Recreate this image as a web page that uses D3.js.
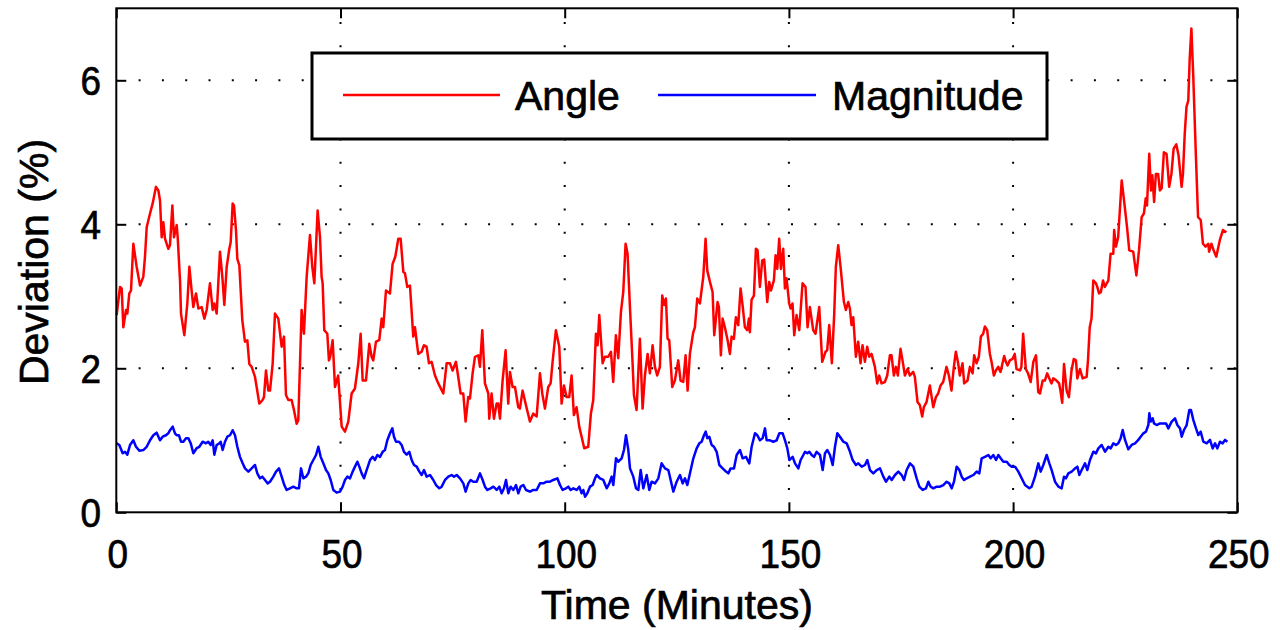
<!DOCTYPE html>
<html><head><meta charset="utf-8">
<script src="https://cdn.jsdelivr.net/npm/d3@7"></script>
<style>
body{margin:0;background:#fff}
svg{display:block}
text{font-family:"Liberation Sans",Arial,Helvetica,sans-serif;fill:#000;stroke:#000;stroke-width:0.7px}
</style>
</head><body>
<svg id="c" width="1280" height="630"></svg>
<script>
const seriesNames = ["Angle", "Magnitude"];
const xTicks = [0, 50, 100, 150, 200, 250];
const yTicks = [0, 2, 4, 6];
const xLabel = "Time (Minutes)";
const yLabel = "Deviation (%)";

const angleTime = [0.08,0.83,1.2,1.57,2.16,2.46,2.9,3.28,3.8,4.54,5.29,6.02,6.4,6.78,7.52,8.11,8.85,9.38,9.75,10.12,10.49,10.86,11.61,11.97,12.5,12.86,13.47,13.69,14.21,14.43,15.17,15.84,16.29,16.8,17.18,17.77,18.3,19.04,19.64,20.15,20.89,21.49,21.86,22.38,23.12,23.65,24.09,24.62,25.21,25.51,25.95,26.25,26.69,26.99,27.44,28.1,28.69,29.22,29.66,30.19,30.93,31.3,31.89,32.63,32.93,33.38,33.9,34.28,34.87,35.39,36.13,36.87,37.4,37.84,38.36,39.1,39.62,40.22,40.59,41.33,41.85,42.45,43.19,43.71,44.16,44.9,45.43,45.79,46.02,46.38,47.06,47.42,47.7,48.25,48.77,49.48,50.26,51.0,51.74,52.48,53.22,53.97,54.49,54.94,55.68,56.42,56.94,57.31,57.91,58.65,59.18,59.54,60.14,61.03,61.62,62.22,62.89,63.41,64.01,64.37,64.9,65.49,66.23,66.6,67.34,68.09,68.61,69.2,69.73,70.32,71.07,71.81,72.93,73.67,74.41,75.01,75.75,76.26,76.79,77.38,77.9,78.49,78.87,79.46,79.99,80.73,81.1,81.62,82.21,82.96,83.18,83.7,84.22,84.82,85.18,85.56,86.15,86.82,87.41,87.79,88.38,88.91,89.65,90.01,90.61,91.35,92.24,92.98,93.74,94.48,95.0,95.59,96.33,96.86,97.3,98.04,98.79,99.31,99.83,100.42,101.01,101.54,102.05,102.65,103.24,103.77,104.36,105.25,105.84,106.37,106.96,107.34,107.71,108.45,108.97,109.72,110.31,110.82,111.42,111.94,112.54,113.06,113.58,114.02,114.55,115.14,115.44,116.03,116.77,117.37,117.89,118.49,119.0,119.6,120.12,120.63,121.23,121.75,122.2,122.58,122.94,123.32,123.98,124.57,125.32,125.84,126.44,126.96,127.41,127.92,128.67,129.04,129.56,130.15,130.9,131.42,131.79,132.39,132.98,133.35,134.09,134.39,134.83,135.21,135.72,136.33,136.84,137.22,137.73,138.18,138.71,139.22,139.66,140.19,140.71,141.08,141.3,141.67,142.2,142.64,143.01,143.53,144.05,144.49,145.17,145.61,145.99,146.65,147.03,147.4,147.84,148.22,148.73,149.11,149.47,150.07,150.37,150.81,151.19,151.71,152.31,153.04,153.71,154.16,154.68,155.42,155.94,156.76,157.43,158.17,158.54,158.99,159.58,160.11,160.47,161.0,161.52,162.27,162.71,163.23,163.6,163.97,164.35,164.94,165.45,165.98,166.42,166.95,167.46,167.91,168.43,169.18,169.69,170.14,170.66,171.4,171.93,172.52,172.89,173.41,173.86,174.3,174.9,175.34,175.87,176.46,176.98,177.72,178.09,178.69,179.2,179.73,180.09,180.69,181.44,182.19,182.78,183.29,183.82,184.41,185.15,185.68,186.26,186.79,187.23,187.75,188.12,188.72,189.09,189.84,190.36,190.96,191.32,191.85,192.36,192.81,193.33,193.7,194.22,194.82,195.19,195.71,196.15,196.68,197.19,197.64,198.01,198.38,198.76,199.27,199.87,200.36,200.76,201.55,201.85,202.24,202.84,203.33,203.92,204.52,205.11,205.61,206.0,206.6,207.09,207.59,208.08,208.58,208.97,209.67,210.26,210.56,210.95,211.35,211.94,212.44,213.03,213.53,214.02,214.32,214.91,215.51,216.4,216.7,217.09,217.49,217.88,218.48,218.77,219.17,219.57,220.06,220.46,221.25,221.74,222.34,222.54,222.93,223.43,224.22,224.91,225.41,225.9,226.79,227.49,228.08,228.67,229.17,229.57,229.86,230.36,230.75,231.05,231.45,231.84,232.34,232.73,233.13,233.62,234.22,234.81,235.31,235.8,236.4,236.89,237.58,237.88,238.28,238.67,239.07,239.37,239.76,240.16,240.75,241.25,241.84,242.34,242.93,243.52,243.72,244.22,244.71,245.31,246.1,246.79,247.58];
const angleDev = [2.74,3.13,3.11,2.57,2.81,2.76,3.04,3.08,3.73,3.41,3.15,3.27,3.55,3.96,4.15,4.29,4.52,4.47,4.33,3.82,4.03,3.8,3.66,3.71,4.26,3.82,3.99,3.82,3.22,2.76,2.46,2.9,3.41,3.08,2.85,3.04,2.83,2.85,2.69,2.81,3.18,2.81,2.9,2.76,3.62,3.27,2.88,3.41,3.66,3.75,4.29,4.26,3.92,3.52,3.43,2.67,2.37,2.39,2.06,2.02,1.88,1.74,1.51,1.56,1.6,1.97,1.69,1.69,2.06,2.76,2.69,2.3,2.44,1.63,1.56,1.56,1.42,1.23,1.28,2.81,2.48,3.27,3.85,3.41,3.18,4.19,3.82,3.27,3.18,2.53,2.48,2.11,2.16,2.39,1.74,1.9,1.19,1.12,1.26,1.65,1.72,2.07,2.48,1.83,1.83,2.34,2.16,2.11,2.37,2.39,2.69,2.57,3.08,3.04,3.45,3.55,3.8,3.8,3.34,3.32,3.13,3.15,2.44,2.57,2.2,2.23,2.32,2.3,2.07,2.09,1.9,1.79,1.65,2.07,2.07,1.97,2.09,1.88,1.65,1.65,1.26,1.6,1.58,1.93,2.16,2.18,2.02,2.53,1.79,1.65,1.3,1.65,1.3,1.51,1.51,1.3,1.83,2.25,1.51,1.95,1.74,1.74,1.46,1.44,1.69,1.49,1.26,1.37,1.33,1.93,1.65,1.44,1.74,1.79,2.09,2.53,2.3,1.51,1.76,1.6,1.6,1.9,1.35,1.46,1.19,1.05,0.89,0.91,1.37,1.56,2.48,2.32,2.74,2.07,2.16,2.16,2.23,1.81,2.46,2.14,2.78,3.06,3.73,3.59,2.85,2.07,1.63,1.42,2.41,1.44,1.9,2.2,1.93,2.32,2.02,1.9,2.02,3.01,2.88,2.97,2.41,2.39,1.74,1.83,2.11,1.83,1.81,2.18,1.69,2.2,2.5,2.57,2.97,2.9,3.27,3.8,3.36,3.2,3.06,2.46,2.92,2.85,2.18,2.69,2.57,2.39,2.2,2.44,2.41,2.71,2.6,3.11,2.88,2.57,2.53,2.69,2.5,2.95,3.01,3.66,3.64,3.13,3.5,3.51,2.92,3.2,3.08,3.22,3.57,3.38,3.8,3.38,3.66,3.11,3.25,2.9,2.83,2.9,2.46,2.74,2.53,3.18,3.13,2.57,2.85,2.53,2.48,2.85,2.09,2.23,2.25,2.6,2.07,2.76,3.41,3.71,3.41,2.92,2.81,2.92,2.83,2.6,2.71,2.16,2.37,2.07,2.32,2.09,2.3,2.16,2.2,2.02,1.79,1.9,1.79,1.81,1.9,2.18,2.18,1.9,2.02,1.9,2.27,2.11,1.9,1.99,1.9,1.95,1.88,1.53,1.49,1.33,1.46,1.53,1.76,1.46,1.6,1.65,1.76,1.81,2.02,1.9,1.69,2.02,2.23,2.07,1.9,2.07,1.79,1.83,2.02,1.93,2.18,2.07,2.16,2.44,2.48,2.58,2.53,2.2,2.09,1.9,1.97,2.02,1.95,2.07,2.17,2.09,2.04,2.11,2.13,2.2,1.99,1.97,2.02,2.48,1.99,1.93,1.81,2.09,2.18,1.67,1.65,1.83,1.83,1.93,1.86,1.79,1.86,1.83,1.79,1.69,1.52,2.06,1.69,1.6,1.97,2.13,2.11,1.86,1.99,1.86,1.88,2.11,2.57,2.69,3.22,3.18,3.13,3.04,3.06,3.22,3.13,3.22,3.59,3.59,3.92,3.69,3.82,4.61,4.24,3.96,3.64,3.62,3.29,3.64,4.1,4.15,4.36,4.26,4.98,4.47,4.68,4.31,4.7,4.7,4.47,4.5,5.0,4.98,4.52,4.7,5.05,5.11,4.96,4.52,4.7,5.26,5.63,5.72,6.28,6.72,6.09,4.98,4.1,4.06,3.73,3.69,3.73,3.62,3.73,3.64,3.55,3.78,3.92,3.89];

const magTime = [0.08,0.68,1.42,1.94,2.46,3.06,3.8,4.39,5.14,6.03,6.77,7.52,8.26,9.0,9.75,10.34,11.08,11.6,11.98,12.57,13.09,13.46,13.98,14.43,14.95,15.54,16.06,16.59,17.18,17.92,18.52,19.26,20.0,20.5,21.05,21.5,21.86,22.38,22.98,23.28,23.72,24.24,24.76,25.36,25.95,26.47,26.99,27.58,28.18,28.7,29.45,30.19,30.93,31.45,32.05,32.57,33.16,33.76,34.28,35.02,35.62,36.29,36.88,37.47,37.99,38.74,39.48,40.23,40.74,41.19,41.71,42.3,42.83,43.35,43.94,44.54,45.06,45.58,46.17,46.77,47.29,47.81,48.4,49.14,49.89,50.48,51.0,51.52,52.12,52.71,53.23,53.76,54.2,54.72,55.24,55.83,56.58,57.17,57.69,58.21,58.81,59.4,59.92,60.44,61.04,61.56,61.93,62.38,63.05,63.64,64.16,64.76,65.35,65.87,66.39,66.99,67.58,68.1,68.62,69.22,69.96,70.7,71.3,72.04,72.56,73.31,74.05,74.79,75.31,75.91,76.65,77.39,77.91,78.51,79.03,79.62,80.37,81.11,81.7,82.22,82.75,83.49,84.09,84.83,85.42,85.94,86.46,86.91,87.43,87.95,88.55,89.14,89.66,90.18,90.78,91.37,92.26,93.0,93.75,94.49,95.23,95.98,96.72,97.46,98.36,98.95,99.54,100.29,100.81,101.33,101.92,102.67,103.26,103.78,104.15,104.53,105.05,105.64,106.24,106.76,107.13,107.87,108.61,109.36,109.95,110.47,110.84,111.44,111.96,112.7,113.22,113.67,114.19,114.56,115.3,115.9,116.42,116.94,117.53,118.28,118.87,119.39,120.14,120.88,121.62,122.37,123.11,123.63,124.23,124.97,125.71,126.31,126.83,127.35,127.94,128.69,129.43,130.02,130.54,131.06,131.44,131.81,132.25,132.77,133.29,133.89,134.48,135.23,135.97,136.49,137.01,137.75,138.35,139.09,139.69,140.43,141.17,141.69,142.44,142.96,143.55,144.15,144.67,145.04,145.78,146.53,147.27,147.87,148.61,149.13,149.65,150.1,150.84,151.36,152.1,152.62,153.22,153.59,154.11,154.56,155.08,155.6,156.19,156.94,157.53,158.05,158.57,159.16,159.76,160.28,160.8,161.39,162.14,162.88,163.63,164.22,164.96,165.48,166.23,166.97,167.49,168.08,168.83,169.57,170.32,171.06,171.65,172.4,172.92,173.66,174.41,175.15,175.67,176.26,177.01,177.75,178.49,179.09,179.83,180.57,181.1,181.61,182.21,182.95,183.69,184.44,185.18,185.78,186.3,186.82,187.41,188.01,188.53,189.05,189.64,190.39,191.13,191.87,192.47,192.99,193.73,194.48,195.0,195.59,196.19,196.71,197.23,197.82,198.57,199.16,199.68,200.43,201.17,201.91,202.66,203.62,204.14,204.89,205.63,206.15,206.74,207.49,208.08,208.6,209.35,210.09,210.83,211.35,211.8,212.32,213.06,213.81,214.33,214.77,215.29,216.04,216.56,217.15,217.9,218.49,219.01,219.75,220.5,221.24,221.76,222.35,222.95,223.47,223.99,224.44,224.96,225.7,226.44,227.19,227.93,228.45,229.05,229.64,230.16,230.38,230.68,231.13,231.42,232.02,232.76,233.51,234.1,234.62,235.37,236.11,236.63,237.22,237.6,238.11,238.71,239.3,239.67,240.2,240.79,241.31,241.83,242.43,243.17,243.91,244.51,245.03,245.55,246.14,246.74,247.26,247.78];
const magDev = [0.958,0.935,0.82,0.84,0.8,0.935,1.0,0.91,0.856,0.865,0.91,1.0,1.07,1.106,1.0,1.05,1.07,1.097,1.14,1.19,1.097,1.07,1.07,0.98,0.98,1.03,1.03,0.96,0.82,0.89,0.91,0.98,0.958,0.98,0.935,1.0,0.8,0.935,0.958,0.98,0.865,0.98,1.05,1.07,1.14,1.07,0.91,0.77,0.68,0.61,0.565,0.61,0.657,0.541,0.472,0.495,0.449,0.402,0.425,0.495,0.565,0.61,0.495,0.379,0.31,0.333,0.356,0.333,0.333,0.61,0.472,0.495,0.541,0.657,0.726,0.796,0.91,0.77,0.68,0.587,0.541,0.449,0.31,0.273,0.287,0.356,0.449,0.495,0.472,0.565,0.634,0.703,0.634,0.541,0.472,0.587,0.726,0.77,0.726,0.796,0.77,0.84,0.865,1.0,1.097,1.166,1.05,0.98,0.98,0.935,0.84,0.8,0.84,0.726,0.657,0.634,0.565,0.518,0.587,0.495,0.518,0.449,0.379,0.333,0.356,0.449,0.495,0.518,0.495,0.518,0.472,0.402,0.287,0.402,0.449,0.425,0.425,0.541,0.449,0.356,0.31,0.333,0.356,0.31,0.356,0.264,0.333,0.449,0.264,0.356,0.31,0.379,0.264,0.356,0.379,0.31,0.287,0.31,0.31,0.402,0.402,0.425,0.425,0.449,0.472,0.379,0.31,0.333,0.356,0.31,0.333,0.31,0.356,0.264,0.31,0.217,0.264,0.356,0.379,0.472,0.518,0.472,0.449,0.333,0.402,0.495,0.379,0.75,0.703,0.75,0.865,1.07,0.865,0.61,0.495,0.333,0.31,0.587,0.333,0.518,0.31,0.425,0.402,0.472,0.68,0.61,0.587,0.449,0.287,0.425,0.518,0.402,0.472,0.379,0.541,0.75,0.888,0.958,0.98,1.07,1.12,1.03,1.05,0.935,0.91,0.84,0.657,0.61,0.565,0.541,0.61,0.61,0.796,0.865,0.75,0.77,0.68,0.91,1.097,1.07,1.0,1.03,1.166,1.0,1.0,0.98,1.0,1.097,1.097,1.0,0.888,0.726,0.77,0.68,0.61,0.726,0.796,0.84,0.82,0.84,0.796,0.77,0.84,0.796,0.587,0.82,0.865,0.796,0.657,0.91,1.097,1.05,0.98,0.958,0.84,0.726,0.657,0.68,0.634,0.657,0.726,0.587,0.541,0.587,0.61,0.495,0.425,0.495,0.449,0.518,0.565,0.518,0.449,0.587,0.68,0.634,0.472,0.356,0.31,0.333,0.425,0.356,0.333,0.356,0.356,0.379,0.425,0.402,0.333,0.425,0.634,0.587,0.495,0.449,0.472,0.495,0.518,0.565,0.541,0.75,0.77,0.796,0.75,0.796,0.726,0.796,0.75,0.703,0.703,0.657,0.634,0.634,0.565,0.472,0.379,0.333,0.356,0.495,0.68,0.565,0.657,0.796,0.68,0.587,0.425,0.356,0.333,0.495,0.472,0.541,0.565,0.61,0.634,0.518,0.587,0.68,0.587,0.726,0.842,0.819,0.888,0.935,0.842,0.91,0.888,0.958,0.935,0.958,1.03,1.143,1.005,0.875,0.935,0.958,1.005,1.05,1.097,1.12,1.212,1.375,1.26,1.305,1.235,1.212,1.235,1.235,1.235,1.166,1.26,1.305,1.212,1.166,1.05,1.143,1.212,1.42,1.42,1.28,1.166,1.074,1.12,0.98,0.958,1.005,0.888,0.958,0.888,0.98,0.958,1.005,0.98];

const x = d3.scaleLinear().domain([0, 250]).range([116.3, 1237.3]);
const y = d3.scaleLinear().domain([0, 7]).range([512.3, 8.3]);
const svg = d3.select("#c");

// grid (dotted)
const grid = svg.append("g");
grid.selectAll("line.v").data(xTicks.filter(t => t > 0 && t < 250)).join("line")
  .attr("x1", d => x(d)).attr("x2", d => x(d))
  .attr("y1", y(0)).attr("y2", y(7))
  .attr("stroke", "#000").attr("stroke-width", 2)
  .attr("stroke-dasharray", "2,21.3").attr("stroke-dashoffset", 1);
grid.selectAll("line.h").data(yTicks.filter(t => t > 0)).join("line")
  .attr("x1", x(0)).attr("x2", x(250))
  .attr("y1", d => y(d)).attr("y2", d => y(d))
  .attr("stroke", "#000").attr("stroke-width", 2)
  .attr("stroke-dasharray", "2,21.3").attr("stroke-dashoffset", 1);

// series
const mk = (ts, vs) => ts.map((t, i) => [t, vs[i]]);
const line = d3.line().x(d => x(d[0])).y(d => y(d[1]));
const series = [
  {name: seriesNames[0], data: mk(angleTime, angleDev), color: "#ff0000"},
  {name: seriesNames[1], data: mk(magTime, magDev), color: "#0000ff"}
];
svg.append("g").selectAll("path").data(series).join("path")
  .attr("d", d => line(d.data))
  .attr("fill", "none").attr("stroke", d => d.color)
  .attr("stroke-width", 2.5).attr("stroke-linejoin", "round");

// axes with inward ticks on all sides
const axG = svg.append("g");
const tl = 10;
const styleAx = g => { g.select(".domain").remove(); g.selectAll("line").attr("stroke-width", 2); };
axG.append("g").attr("transform", `translate(0,${y(0)})`)
  .call(d3.axisBottom(x).tickValues(xTicks).tickSize(-tl).tickFormat("")).call(styleAx);
axG.append("g").attr("transform", `translate(0,${y(7)})`)
  .call(d3.axisTop(x).tickValues(xTicks).tickSize(-tl).tickFormat("")).call(styleAx);
axG.append("g").attr("transform", `translate(${x(0)},0)`)
  .call(d3.axisLeft(y).tickValues(yTicks).tickSize(-tl).tickFormat("")).call(styleAx);
axG.append("g").attr("transform", `translate(${x(250)},0)`)
  .call(d3.axisRight(y).tickValues(yTicks).tickSize(-tl).tickFormat("")).call(styleAx);
axG.append("rect").attr("x", x(0)).attr("y", y(7)).attr("width", x(250) - x(0)).attr("height", y(0) - y(7))
  .attr("fill", "none").attr("stroke", "#000").attr("stroke-width", 2);

// tick labels (slightly condensed, as in the reference)
svg.append("g").selectAll("text").data(xTicks).join("text")
  .attr("transform", d => `translate(${x(d) + 1.5},568) scale(0.9,1)`)
  .attr("text-anchor", "middle").attr("font-size", 41).text(d => d);
svg.append("g").selectAll("text").data(yTicks).join("text")
  .attr("transform", d => `translate(101,${y(d) + 15}) scale(0.9,1)`)
  .attr("text-anchor", "end").attr("font-size", 41).text(d => d);

// axis titles
svg.append("text").attr("x", 677).attr("y", 619).attr("text-anchor", "middle")
  .attr("font-size", 41).text(xLabel);
svg.append("text").attr("transform", "translate(48,262) rotate(-90)").attr("text-anchor", "middle")
  .attr("font-size", 41).text(yLabel);

// legend
const lg = svg.append("g");
lg.append("rect").attr("x", 312).attr("y", 53).attr("width", 735).attr("height", 86)
  .attr("fill", "#fff").attr("stroke", "#000").attr("stroke-width", 3);
const legItems = [
  {name: series[0].name, color: series[0].color, x1: 343, x2: 500, tx: 515},
  {name: series[1].name, color: series[1].color, x1: 658, x2: 816, tx: 832}
];
legItems.forEach(it => {
  lg.append("line").attr("x1", it.x1).attr("x2", it.x2).attr("y1", 95).attr("y2", 95)
    .attr("stroke", it.color).attr("stroke-width", 2.5);
  lg.append("text").attr("x", it.tx).attr("y", 110).attr("font-size", 41).text(it.name);
});
</script>
</body></html>
